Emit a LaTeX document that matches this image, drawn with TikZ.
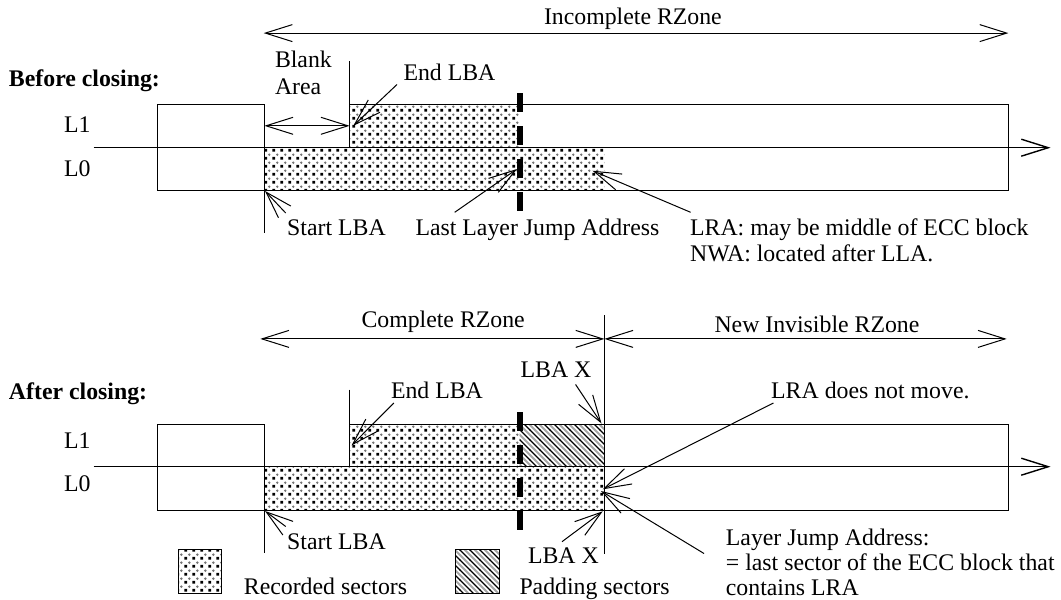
\documentclass[tikz,border=0pt]{standalone}
\usepackage{fontspec}
\setmainfont{Liberation Serif}
\usetikzlibrary{arrows.meta,patterns}

\pgfdeclarepatternformonly{recsq}{\pgfpointorigin}{\pgfpoint{8pt}{8pt}}{\pgfpoint{8pt}{8pt}}{%
  \pgfpathrectangle{\pgfpoint{0.5pt}{0.5pt}}{\pgfpoint{2.9pt}{2.9pt}}\pgfusepath{fill}}
\pgfdeclarepatternformonly{recdot}{\pgfpointorigin}{\pgfpoint{8pt}{8pt}}{\pgfpoint{8pt}{8pt}}{%
  \pgfpathcircle{\pgfpoint{5.9pt}{5.9pt}}{1.5pt}\pgfusepath{fill}}
\pgfdeclarepatternformonly{padblk}{\pgfpoint{-1pt}{-1pt}}{\pgfpoint{11pt}{11pt}}{\pgfpoint{10pt}{10pt}}{%
  \pgfsetlinewidth{1.2pt}%
  \pgfpathmoveto{\pgfpoint{-0.2pt}{10.2pt}}\pgfpathlineto{\pgfpoint{10.2pt}{-0.2pt}}\pgfusepath{stroke}}
\pgfdeclarepatternformonly{padgry}{\pgfpoint{-1pt}{-1pt}}{\pgfpoint{11pt}{11pt}}{\pgfpoint{10pt}{10pt}}{%
  \pgfsetlinewidth{1.8pt}%
  \pgfpathmoveto{\pgfpoint{-0.2pt}{5.2pt}}\pgfpathlineto{\pgfpoint{5.2pt}{-0.2pt}}%
  \pgfpathmoveto{\pgfpoint{4.8pt}{10.2pt}}\pgfpathlineto{\pgfpoint{10.2pt}{4.8pt}}\pgfusepath{stroke}}

\begin{document}
\begin{tikzpicture}[x=1pt,y=-1pt,line width=1pt,
  lbl/.style={inner sep=0pt,anchor=base west,font=\fontsize{23.8}{26}\selectfont},
  lblr/.style={lbl,anchor=base east},
  ptr/.style={-{Straight Barb[length=27pt,width=17pt]}},
  dbl/.style={{Straight Barb[length=27pt,width=17pt]}-{Straight Barb[length=27pt,width=17pt]}},
  axisline/.style={line width=1.4pt,ptr},
  rec/.style={pattern=recdot,pattern color=black!55,postaction={pattern=recsq,pattern color=black}},
  padfill/.style={pattern=padgry,pattern color=black!35,postaction={pattern=padblk,pattern color=black}},
  jump/.style={line width=6pt,dash pattern=on 19pt off 14pt}]

\fill[white] (0,0) rectangle (1061,600);
\useasboundingbox (0,0) rectangle (1061,600);

% ================= BEFORE CLOSING =================
\path[rec] (349.6,104.8) rectangle (519.5,147.7);
\path[rec] (264.4,147.7) rectangle (604.4,190.3);

\draw (157.2,104.8) rectangle (264.4,190.3);
\draw (349.6,104.8) rectangle (1008.4,147.7);
\draw (264.4,147.7) rectangle (1008.4,190.3);
\draw (349.6,61) -- (349.6,104.8);
\draw (264.4,190.3) -- (264.4,233.3);

\coordinate (ax1s) at (93.6,147.7);
\coordinate (ax1e) at (1050.6,147.7);
\draw[axisline] (ax1s) -- (ax1e);

\coordinate (j1s) at (519.5,93);
\coordinate (j1e) at (519.5,212);
\draw[jump] (j1s) -- (j1e);

\node[lbl] (tinc) at (543.5,24) {Incomplete RZone};
\node[lbl] (tbefore) at (8.5,86.2) {\bfseries Before closing:};
\node[lbl] (tblank) at (274.5,67.6) {Blank};
\node[lbl] (tarea) at (274.5,94.7) {Area};
\node[lbl] (tend1) at (403,80) {End LBA};
\node[lbl] (tl1a) at (63.6,132.9) {L1};
\node[lbl] (tl0a) at (63.6,176.5) {L0};
\node[lbl] (tstart1) at (286.7,235.6) {Start LBA};
\node[lbl] (tllja) at (415,235.6) {Last Layer Jump Address};
\node[lbl] (tlra1) at (689.6,235) {LRA: may be middle of ECC block};
\node[lbl] (tnwa) at (689.6,261.3) {NWA: located after LLA.};

\coordinate (incL) at (263.7,33.1);
\coordinate (incR) at (1008.4,33.1);
\draw[dbl] (incL) -- (incR);
\coordinate (blL) at (264.4,125.8);
\coordinate (blR) at (349.6,125.8);
\draw[dbl] (blL) -- (blR);
\coordinate (e1s) at (397,84.5);
\coordinate (e1t) at (353.3,125.8);
\draw[ptr] (e1s) -- (e1t);
\coordinate (s1s) at (285.7,213);
\coordinate (s1t) at (265,191);
\draw[ptr] (s1s) -- (s1t);
\coordinate (ll1s) at (454.7,212.3);
\coordinate (ll1t) at (517,169);
\draw[ptr] (ll1s) -- (ll1t);
\coordinate (lr1s) at (690.6,212.3);
\coordinate (lr1t) at (592.5,170.7);
\draw[ptr] (lr1s) -- (lr1t);

% ================= AFTER CLOSING =================
\path[rec] (349.6,424) rectangle (519.5,466.7);
\path[padfill] (519.5,424) rectangle (604.4,466.7);
\path[rec] (264.4,466.7) rectangle (604.4,510.3);

\draw (157.2,424) rectangle (264.4,510.3);
\draw (349.6,424) rectangle (1008.4,466.7);
\draw (264.4,466.7) rectangle (1008.4,510.3);
\draw (604.4,315.2) -- (604.4,553.5);
\draw (349.6,389.6) -- (349.6,424);
\draw (264.4,510.3) -- (264.4,552.9);

\coordinate (ax2s) at (93.6,466.7);
\coordinate (ax2e) at (1050.6,466.7);
\draw[axisline] (ax2s) -- (ax2e);

\coordinate (j2s) at (519.5,412);
\coordinate (j2e) at (519.5,531);
\draw[jump] (j2s) -- (j2e);

\node[lbl] (tcomp) at (361,327) {Complete RZone};
\node[lbl] (tnew) at (714,332.1) {New Invisible RZone};
\node[lbl] (tafter) at (8.5,399.7) {\bfseries After closing:};
\node[lblr] (tlbx1) at (591.9,377.8) {LBA X};
\node[lbl] (tend2) at (390.5,398.7) {End LBA};
\node[lbl] (tlra2) at (770.7,398.7) {LRA does not move.};
\node[lbl] (tl1b) at (63.6,448.7) {L1};
\node[lbl] (tl0b) at (63.6,491.7) {L0};
\node[lbl] (tstart2) at (286.7,549.5) {Start LBA};
\node[lblr] (tlbx2) at (599.3,563.7) {LBA X};
\node[lbl] (tlja1) at (725.4,545) {Layer Jump Address:};
\node[lbl] (tlja2) at (725.4,570.4) {= last sector of the ECC block that};
\node[lbl] (tlja3) at (725.4,595.8) {contains LRA};

\coordinate (cL) at (260.3,338.9);
\coordinate (cR) at (604.4,338.9);
\draw[dbl] (cL) -- (cR);
\coordinate (nL) at (604.4,338.9);
\coordinate (nR) at (1006.7,338.9);
\draw[dbl] (nL) -- (nR);
\coordinate (x1s) at (575.6,384.5);
\coordinate (x1t) at (601.5,423.5);
\draw[ptr] (x1s) -- (x1t);
\coordinate (e2s) at (393.8,403);
\coordinate (e2t) at (351.6,445.4);
\draw[ptr] (e2s) -- (e2t);
\coordinate (lr2s) at (773.4,403);
\coordinate (lr2t) at (602.7,489.3);
\draw[ptr] (lr2s) -- (lr2t);
\coordinate (ljs) at (704,553.5);
\coordinate (ljt) at (601,491);
\draw[ptr] (ljs) -- (ljt);
\coordinate (s2s) at (285.7,526.5);
\coordinate (s2t) at (265,511);
\draw[ptr] (s2s) -- (s2t);
\coordinate (x2s) at (562,541.7);
\coordinate (x2t) at (602.7,511.3);
\draw[ptr] (x2s) -- (x2t);

% ================= LEGEND =================
\path[rec] (178.5,549) rectangle (221.5,593.5);
\draw[line width=0.8pt] (178.5,549) rectangle (221.5,593.5);
\path[padfill] (455.5,549) rectangle (499.5,593.5);
\draw[line width=0.8pt] (455.5,549) rectangle (499.5,593.5);
\node[lbl] (trec) at (243.4,594.5) {Recorded sectors};
\node[lbl] (tpad) at (519,594.5) {Padding sectors};
\end{tikzpicture}
\end{document}
